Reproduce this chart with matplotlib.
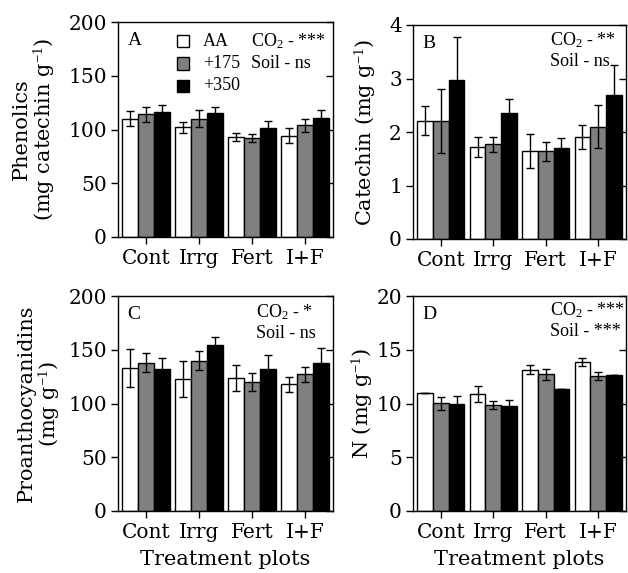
import matplotlib
matplotlib.use("Agg")
import matplotlib.pyplot as plt
from matplotlib.patches import Rectangle

plt.rcParams['font.family'] = ['DejaVu Serif']
plt.rcParams['mathtext.fontset'] = 'custom'
plt.rcParams['mathtext.rm'] = 'Liberation Serif'
plt.rcParams['mathtext.it'] = 'Liberation Serif:italic'

treatments = ['Cont', 'Irrg', 'Fert', 'I+F']
levels = ['AA', '+175', '+350']
colors = ['white', '#808080', 'black']

# values: one list per CO2 level, one entry per treatment
phen_mean = [[110, 102, 93, 94], [114, 110, 92, 104], [116, 115, 101, 111]]
phen_err = [[7, 5, 4, 7], [7, 8, 4, 6], [7, 6, 7, 7]]
cat_mean = [[2.21, 1.72, 1.64, 1.91], [2.20, 1.77, 1.64, 2.10], [2.97, 2.36, 1.70, 2.70]]
cat_err = [[0.27, 0.19, 0.32, 0.22], [0.60, 0.14, 0.18, 0.40], [0.80, 0.25, 0.18, 0.55]]
pro_mean = [[133, 123, 124, 118], [138, 140, 120, 127], [132, 154, 132, 138]]
pro_err = [[18, 17, 12, 7], [9, 9, 8, 7], [10, 8, 13, 14]]
n_mean = [[11.0, 10.85, 13.15, 13.83], [10.02, 9.86, 12.71, 12.56], [9.98, 9.74, 11.35, 12.65]]
n_err = [[0.0, 0.75, 0.45, 0.37], [0.6, 0.4, 0.5, 0.37], [0.7, 0.6, 0.0, 0.0]]

W, H = 628, 573
fig = plt.figure(figsize=(W / 100, H / 100), dpi=100)
note_font = ['Liberation Serif', 'DejaVu Serif']


def px_axes(left, top, right, bottom):
    return fig.add_axes([left / W, 1 - bottom / H, (right - left) / W, (bottom - top) / H])


def panel(ax, means, errs, ymax, step, ylabel, letter, labx):
    bw = 0.3
    for k in range(3):
        xs = [i + (k - 1) * bw for i in range(4)]
        ax.bar(xs, means[k], width=bw, color=colors[k], edgecolor='black', linewidth=1.0, zorder=2)
        ax.errorbar(xs, means[k], yerr=errs[k], fmt='none', ecolor='black', elinewidth=1.0,
                    capsize=2.8, capthick=1.0, zorder=3)
    ax.set_xlim(-0.53, 3.53)
    ax.set_ylim(0, ymax)
    ax.set_yticks([step * j for j in range(int(round(ymax / step)) + 1)])
    ax.set_xticks(range(4))
    ax.set_xticklabels(treatments)
    ax.tick_params(axis='both', labelsize=14.5, width=1.0, length=5, direction='out')
    ax.tick_params(axis='y', right=True, labelright=False, pad=3)
    for s in ax.spines.values():
        s.set_linewidth(1.0)
    # right ticks point inward
    for t in ax.yaxis.get_major_ticks():
        t.tick2line.set_marker(matplotlib.lines.TICKLEFT)
    ax.set_ylabel(ylabel, fontsize=15, linespacing=1.05)
    ax.yaxis.set_label_coords(labx, 0.5)
    ax.text(0.045, 0.915, letter, transform=ax.transAxes, fontsize=14, va='center', ha='left',
            family=note_font)


axA = px_axes(118, 22, 333, 237)
axB = px_axes(413, 25, 626, 239)
axC = px_axes(118, 296, 333, 511)
axD = px_axes(413, 296, 626, 511)

panel(axA, phen_mean, phen_err, 200, 50, 'Phenolics\n(mg catechin g$^{-1}$)', 'A', -0.285)
panel(axB, cat_mean, cat_err, 4, 1, 'Catechin (mg g$^{-1}$)', 'B', -0.165)
panel(axC, pro_mean, pro_err, 200, 50, 'Proanthocyanidins\n(mg g$^{-1}$)', 'C', -0.26)
panel(axD, n_mean, n_err, 20, 5, 'N (mg g$^{-1}$)', 'D', -0.18)

for ax in (axC, axD):
    ax.set_xlabel('Treatment plots', fontsize=15, labelpad=6)

# legend inside panel A
for k, lab in enumerate(levels):
    y = 41 + 22.5 * k
    fig.patches.append(Rectangle((177 / W, 1 - (y + 6) / H), 12 / W, 12 / H, transform=fig.transFigure,
                                 facecolor=colors[k], edgecolor='black', linewidth=1.0))
    fig.text(203 / W, 1 - y / H, lab, fontsize=13, va='center', ha='left', family=note_font)

# statistics notes
stats = [(251, 41, 'CO$_2$ - ***', 'Soil - ns'),
         (550, 40, 'CO$_2$ - **', 'Soil - ns'),
         (256, 312, 'CO$_2$ - *', 'Soil - ns'),
         (550, 310, 'CO$_2$ - ***', 'Soil - ***')]
for x, y, l1, l2 in stats:
    fig.text(x / W, 1 - y / H, l1, fontsize=13, va='center', ha='left', family=note_font)
    fig.text(x / W, 1 - (y + 22) / H, l2, fontsize=13, va='center', ha='left', family=note_font)

fig.savefig('out.png', dpi=100)
